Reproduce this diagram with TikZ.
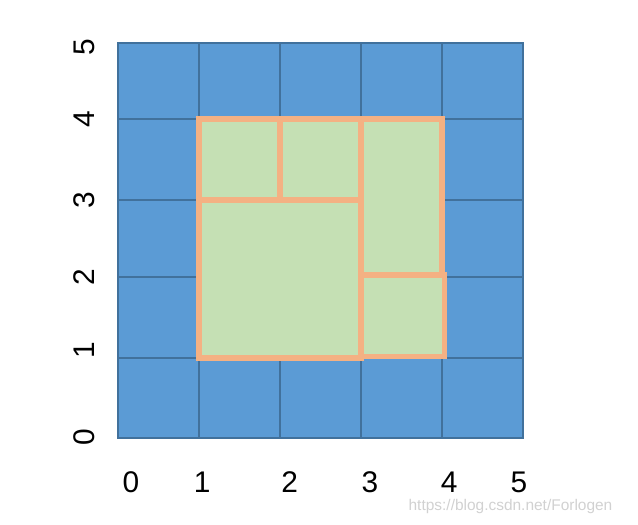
\documentclass[tikz,border=0pt]{standalone}
\usepackage{fontspec}
\setmainfont{Liberation Sans}
\usepackage{xcolor}
\definecolor{cellblue}{HTML}{5B9BD5}
\definecolor{gridblue}{HTML}{41719C}
\definecolor{boxgreen}{HTML}{C5E0B4}
\definecolor{boxorange}{HTML}{F4B183}
\tikzset{
  cell/.style={fill=cellblue,draw=gridblue,line width=1pt},
  block/.style={fill=boxgreen,draw=boxorange,line width=3.2pt},
  ticklbl/.style={font=\fontsize{17}{20}\selectfont,text=black},
  mark lbl/.style={font=\fontsize{8.8}{11}\selectfont,text=black!18}
}

\begin{document}
\begin{tikzpicture}[x=1.62cm,y=1.58cm]
  \useasboundingbox (-1.457,-1.101) rectangle (6.420,5.544);
  % blue grid (row lines as in the original plot)
  \foreach \i in {0,...,4}
    \foreach \ya/\yb in {0/1.013,1.013/2.038,2.038/3.013,3.013/4.038,4.038/5}
      \draw[cell] (\i,\ya) rectangle (\i+1,\yb);
  % packed blocks
  \draw[block] (1,3.013) rectangle (2,4.038);
  \draw[block] (2,3.013) rectangle (3,4.038);
  \draw[block] (1,1.013) rectangle (3,3.013);
  \draw[block] (3,2.06) rectangle (4,4.038);
  \draw[block] (3,1.03) rectangle (4.03,2.06);
  % axis labels
  \foreach \v/\p in {0/0.01,1/1.11,2/2.04,3/3.01,4/4.03,5/4.95}
    \node[ticklbl,rotate=90] (y\v) at (-0.42,\p) {\v};
  \foreach \v/\p in {0/0.16,1/1.04,2/2.12,3/3.11,4/4.09,5/4.95}
    \node[ticklbl] (x\v) at (\p,-0.557) {\v};
  \node[mark lbl,anchor=east] (wm) at (6.18,-0.873) {https://blog.csdn.net/Forlogen};
\end{tikzpicture}
\end{document}
